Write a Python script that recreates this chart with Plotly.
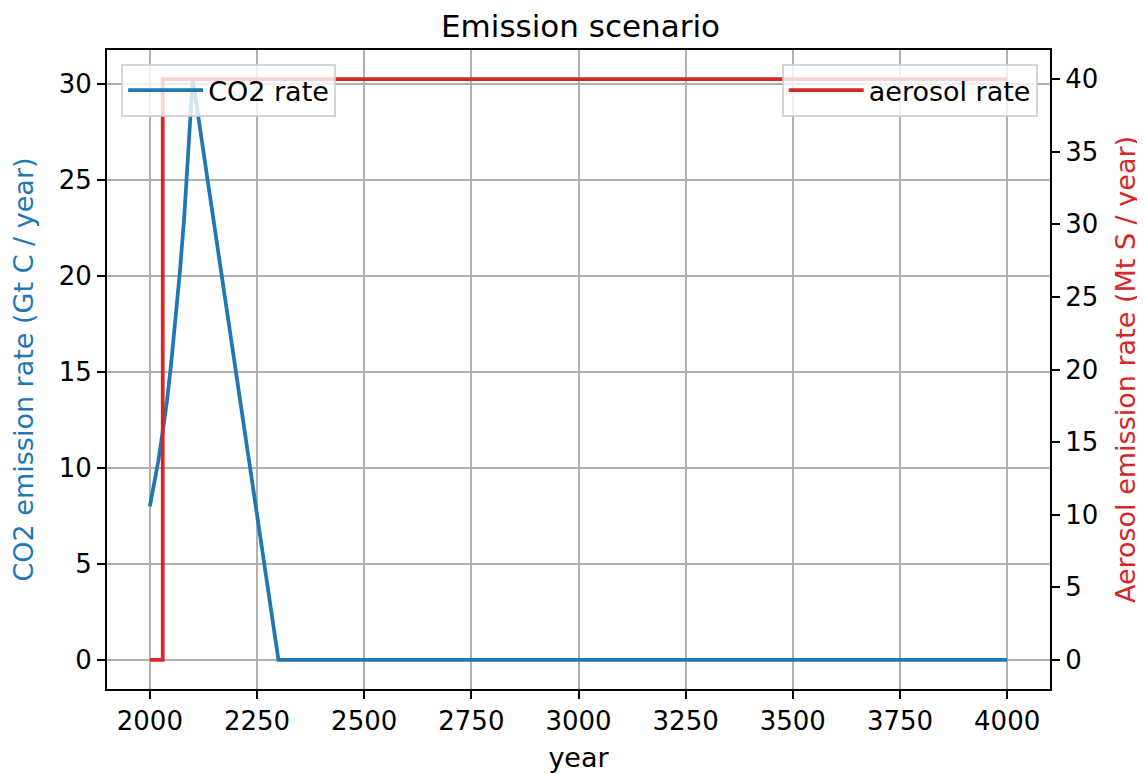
import plotly.graph_objects as go

# Data
co2_years = [2000, 2010, 2020, 2030, 2040, 2050, 2060, 2070, 2080, 2090, 2100, 2300, 4000]
co2_rate = [8.0, 9.1, 10.4, 11.9, 13.5, 15.5, 17.7, 20.2, 23.0, 26.4, 30.25, 0.0, 0.0]

aer_years = [2000, 2030, 2030, 4000]
aer_rate = [0, 0, 40, 40]

x_ticks = [2000, 2250, 2500, 2750, 3000, 3250, 3500, 3750, 4000]
y1_ticks = [0, 5, 10, 15, 20, 25, 30]
y2_ticks = [0, 5, 10, 15, 20, 25, 30, 35, 40]

BLUE = "#1f77b4"
RED = "#d62728"
FONT = "DejaVu Sans"

fig = go.Figure()
fig.add_trace(go.Scatter(x=co2_years, y=co2_rate, mode="lines", name="CO2 rate",
                         line=dict(color=BLUE, width=3.75), yaxis="y", legend="legend"))
fig.add_trace(go.Scatter(x=aer_years, y=aer_rate, mode="lines", name="aerosol rate",
                         line=dict(color=RED, width=3.75), yaxis="y2", legend="legend2"))

axis_common = dict(showline=True, linecolor="black", linewidth=2, ticks="outside",
                   ticklen=8, tickwidth=2, tickcolor="black", zeroline=False,
                   tickfont=dict(family=FONT, size=26, color="black"))

y1_lo = -0.05 * max(co2_rate)
y1_hi = 1.05 * max(co2_rate)

fig.update_layout(
    width=1145, height=774,
    margin=dict(l=99, r=103, t=42, b=93, autoexpand=False),
    paper_bgcolor="white", plot_bgcolor="white",
    font=dict(family=FONT, size=27, color="black"),
    title=dict(text="Emission scenario", x=0.5, xanchor="center",
               yref="paper", y=1, yanchor="bottom", pad=dict(b=13),
               font=dict(family=FONT, size=31, color="black")),
    xaxis=dict(range=[1900, 4100], tickvals=x_ticks, mirror=True, showgrid=True,
               gridcolor="#b0b0b0", gridwidth=2,
               title=dict(text="year", font=dict(family=FONT, size=27), standoff=13),
               **axis_common),
    yaxis=dict(range=[y1_lo, y1_hi], tickvals=y1_ticks, showgrid=True,
               gridcolor="#b0b0b0", gridwidth=2,
               title=dict(text="CO2 emission rate (Gt C / year)",
                          font=dict(family=FONT, size=27, color=BLUE), standoff=22),
               **axis_common),
    yaxis2=dict(range=[-2, 42], tickvals=y2_ticks, overlaying="y", side="right",
                showgrid=False,
                title=dict(text="Aerosol emission rate (Mt S / year)",
                           font=dict(family=FONT, size=27, color=RED), standoff=19),
                **axis_common),
    legend=dict(x=0.015, y=0.978, xanchor="left", yanchor="top", itemwidth=75,
                bgcolor="rgba(255,255,255,0.8)", bordercolor="rgba(204,204,204,0.8)",
                borderwidth=2, font=dict(family=FONT, size=27, color="black")),
    legend2=dict(x=0.987, y=0.978, xanchor="right", yanchor="top", itemwidth=75,
                 bgcolor="rgba(255,255,255,0.8)", bordercolor="rgba(204,204,204,0.8)",
                 borderwidth=2, font=dict(family=FONT, size=27, color="black")),
    showlegend=True,
)

fig.write_html("out.html")
